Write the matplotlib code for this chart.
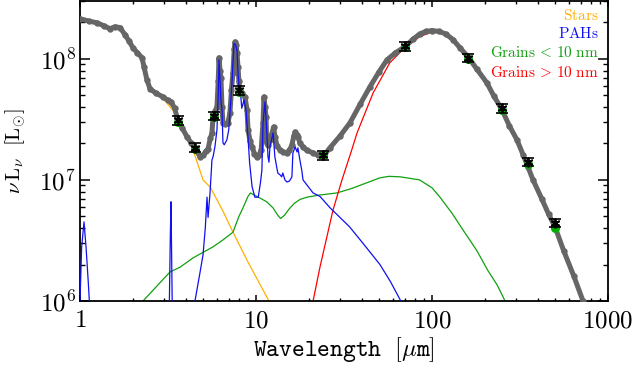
import numpy as np
import matplotlib
matplotlib.use("Agg")
import matplotlib.pyplot as plt
from matplotlib.ticker import FixedLocator, FixedFormatter, LogLocator, NullFormatter

plt.rcParams['mathtext.fontset'] = 'cm'
plt.rcParams['font.family'] = ['DejaVu Serif']

# ---------------- data ----------------
total_wl = [1.0, 1.12, 1.25, 1.37, 1.48, 1.58, 1.69, 1.8, 1.9, 2.0, 2.12, 2.25, 2.31, 2.40, 2.5,
            2.7, 2.96, 3.15, 3.3, 3.45, 3.6, 3.8, 4.05, 4.3, 4.5, 4.81, 5.0, 5.2, 5.34, 5.5,
            5.62, 5.7, 5.85, 6.0, 6.1, 6.16, 6.25, 6.32, 6.41, 6.49, 6.7, 6.93, 7.11, 7.25,
            7.40, 7.52, 7.60, 7.70, 7.80, 7.9, 8.0, 8.1, 8.3, 8.66, 8.89, 9.01, 9.25, 9.49,
            9.8, 10.1, 10.4, 10.7, 10.96, 11.1, 11.25, 11.4, 11.5, 11.7, 12.0, 12.3, 12.6,
            12.8, 13.2, 13.7, 14.3, 15.0, 15.5, 16.0, 16.4, 16.7, 17.0, 17.3, 17.8, 18.5,
            19.5, 21.1, 22.5, 24.0, 26.3, 30.0, 34.2, 39.0, 44.4, 50.0, 55.5, 62.0, 70.2,
            78.0, 85.0, 92.0, 100.0, 110.0, 120.0, 131.6, 145.0, 160.0, 180.0, 205.0, 225.0,
            250.0, 275.0, 304.0, 330.0, 351.0, 375.0, 420.0, 460.0, 500.0, 560.0, 640.0,
            721.0, 800.0]
total_L = [2.14e8, 2.05e8, 1.98e8, 1.87e8, 1.77e8, 1.84e8, 1.81e8, 1.58e8, 1.40e8, 1.23e8,
           1.12e8, 1.02e8, 8.6e7, 6.7e7, 5.65e7, 5.2e7, 4.85e7, 4.55e7, 4.4e7, 3.9e7, 3.1e7,
           2.7e7, 2.27e7, 2.0e7, 1.84e7, 1.55e7, 1.6e7, 1.72e7, 1.8e7, 2.2e7, 2.44e7, 3.3e7,
           3.7e7, 4.0e7, 6.5e7, 1.02e8, 8.0e7, 6.97e7, 4.0e7, 2.96e7, 2.9e7, 2.96e7, 3.58e7,
           5.5e7, 7.66e7, 1.2e8, 1.38e8, 1.3e8, 1.12e8, 8.5e7, 6.5e7, 5.4e7, 5.2e7, 4.85e7,
           3.79e7, 2.59e7, 2.1e7, 1.87e7, 1.65e7, 1.55e7, 1.6e7, 1.77e7, 2.96e7, 4.85e7,
           4.0e7, 3.32e7, 2.02e7, 1.95e7, 2.14e7, 2.4e7, 2.74e7, 2.27e7, 1.9e7, 1.77e7,
           1.7e7, 1.67e7, 1.75e7, 1.95e7, 2.3e7, 2.49e7, 2.35e7, 2.27e7, 2.0e7, 1.87e7,
           1.75e7, 1.67e7, 1.6e7, 1.55e7, 1.84e7, 2.3e7, 2.96e7, 4.2e7, 5.87e7, 7.8e7, 9.8e7,
           1.12e8, 1.26e8, 1.45e8, 1.6e8, 1.68e8, 1.71e8, 1.68e8, 1.6e8, 1.44e8, 1.22e8,
           1.04e8, 8.2e7, 6.33e7, 4.9e7, 3.79e7, 2.8e7, 2.14e7, 1.6e7, 1.28e7, 1.0e7, 7.0e6,
           5.2e6, 4.09e6, 2.6e6, 1.6e6, 1.0e6, 6.5e5]

stars_wl = [1.0, 1.25, 1.48, 1.58, 1.69, 1.8, 2.0, 2.25, 2.5, 3.0, 3.4, 3.7, 4.1, 4.4, 5.0,
            5.5, 6.5, 7.4, 9.0, 11.85, 13.0]
stars_L = [2.1e8, 1.95e8, 1.75e8, 1.82e8, 1.78e8, 1.55e8, 1.2e8, 1.0e8, 5.6e7, 4.6e7, 3.7e7,
           2.95e7, 2.2e7, 1.75e7, 1.0e7, 8.7e6, 5.5e6, 3.7e6, 2.1e6, 1.0e6, 7.5e5]

pah_wl = [0.97, 1.0, 1.022, 1.054, 1.082, 1.115, 1.14, 1.16, 3.18, 3.22, 3.26, 3.29, 3.31,
          3.34, 3.38, 4.4, 4.45, 4.5, 4.8, 5.0, 5.15, 5.27, 5.34, 5.48, 5.62, 5.7, 5.85, 6.0,
          6.1, 6.16, 6.25, 6.32, 6.41, 6.49, 6.6, 6.83, 7.0, 7.15, 7.3, 7.5, 7.65, 7.8, 7.9,
          8.05, 8.2, 8.3, 8.55, 8.77, 9.0, 9.2, 9.5, 9.85, 10.3, 10.6, 10.8, 10.96, 11.25,
          11.5, 11.7, 11.85, 12.0, 12.5, 12.8, 13.3, 13.7, 14.0, 14.2, 14.6, 15.0, 15.5, 16.0,
          16.2, 16.7, 17.1, 17.3, 17.7, 18.2, 18.5, 21.1, 23.1, 26.3, 34.0, 40.5, 50.6, 58.0,
          66.5, 72.0]
pah_L = [1e4, 1.0e6, 2.8e6, 4.5e6, 2.8e6, 1.41e6, 8e5, 1e4, 1e4, 1.0e6, 3.5e6, 6.6e6, 3.0e6,
         1.0e6, 1e4, 1e4, 5e5, 1.0e6, 1.7e6, 2.4e6, 4.0e6, 7.2e6, 4.9e6, 7.8e6, 1.46e7, 1.55e7,
         1.9e7, 2.59e7, 5.0e7, 9.8e7, 6.5e7, 4.5e7, 3.79e7, 2.02e7, 1.95e7, 2.14e7, 2.59e7,
         4.0e7, 6.3e7, 1.34e8, 1.3e8, 1.18e8, 7.66e7, 5.5e7, 4.85e7, 3.9e7, 4.58e7, 3.79e7,
         2.27e7, 1.38e7, 8.8e6, 7.2e6, 7.2e6, 9.5e6, 1.2e7, 2.96e7, 4.4e7, 2.59e7, 1.55e7,
         1.4e7, 1.87e7, 2.44e7, 1.55e7, 1.14e7, 1.1e7, 1.06e7, 1.14e7, 1.0e7, 9.6e6, 9.8e6,
         1.06e7, 1.67e7, 1.87e7, 1.7e7, 1.84e7, 1.5e7, 1.2e7, 1.0e7, 7.8e6, 7.3e6, 5.9e6,
         4.1e6, 3.0e6, 2.0e6, 1.45e6, 1.0e6, 7.5e5]

vsg_wl = [2.2, 2.28, 3.25, 3.7, 4.39, 5.7, 6.5, 7.4, 8.0, 8.45, 9.0, 9.3, 9.6, 10.5, 11.5,
          12.5, 13.3, 13.8, 14.5, 15.5, 16.5, 17.8, 19.5, 23.0, 28.8, 35.0, 42.5, 50.6, 57.0,
          66.0, 85.0, 100.0, 111.0, 130.0, 150.0, 180.0, 207.0, 235.0, 260.0, 280.0]
vsg_L = [8e5, 1.0e6, 1.74e6, 1.9e6, 2.27e6, 2.8e6, 3.2e6, 3.7e6, 5.0e6, 5.9e6, 7.3e6, 7.8e6,
         7.6e6, 7.1e6, 6.6e6, 5.87e6, 5.1e6, 4.8e6, 5.1e6, 5.8e6, 6.4e6, 6.9e6, 7.2e6, 7.5e6,
         7.8e6, 8.5e6, 9.45e6, 1.04e7, 1.07e7, 1.06e7, 1.0e7, 8.6e6, 7.2e6, 5.3e6, 3.86e6,
         2.6e6, 1.8e6, 1.35e6, 1.0e6, 8e5]

bg_wl = [20.5, 21.1, 23.1, 27.4, 30.8, 35.0, 37.5, 46.3, 57.6, 68.3, 85.0, 100.0, 115.0,
         131.6, 160.0, 205.0, 250.0, 304.0, 375.0, 500.0, 721.0, 800.0]
bg_L = [7e5, 1.0e6, 1.91e6, 5.65e6, 1.0e7, 1.77e7, 2.44e7, 5.23e7, 9.27e7, 1.19e8, 1.52e8,
        1.67e8, 1.62e8, 1.4e8, 1.01e8, 6.2e7, 3.72e7, 2.1e7, 9.8e6, 4.0e6, 9.8e5, 6.4e5]

obs_wl = [3.6, 4.5, 5.8, 8.0, 24.0, 70.0, 160.0, 250.0, 350.0, 500.0]
obs_L = [3.1e7, 1.85e7, 3.4e7, 5.5e7, 1.6e7, 1.27e8, 1.02e8, 3.9e7, 1.4e7, 4.4e6]
obs_err = [2.5e6, 1.5e6, 2.7e6, 4.4e6, 1.3e6, 1.0e7, 8.0e6, 3.1e6, 1.1e6, 3.5e5]
band_L = [3.0e7, 1.8e7, 3.3e7, 5.3e7, 1.6e7, 1.24e8, 1.0e8, 3.8e7, 1.35e7, 4.0e6]

legend_labels = [r'$\mathrm{Stars}$', r'$\mathrm{PAHs}$',
                 r'$\mathrm{Grains}\,<\,10\ \mathrm{nm}$',
                 r'$\mathrm{Grains}\,>\,10\ \mathrm{nm}$']
xtick_vals = [1, 10, 100, 1000]
xtick_labels = ['1', '10', '100', '1000']
ytick_vals = [1e6, 1e7, 1e8]
ytick_labels = [r'$10^{6}$', r'$10^{7}$', r'$10^{8}$']

# ---------------- style ----------------
c_stars = '#FFB000'
c_pah = '#1010F0'
c_vsg = '#10A010'
c_bg = '#FF0000'
c_tot = '#666666'

fig = plt.figure(figsize=(6.33, 3.66), dpi=100)
ax = fig.add_axes([80/633, 65/366, 528/633, 300/366])
ax.set_xscale('log')
ax.set_yscale('log')
ax.set_xlim(1, 1000)
ax.set_ylim(1e6, 3.0e8)

ax.plot(stars_wl, stars_L, color=c_stars, lw=0.9, zorder=2)
ax.plot(vsg_wl, vsg_L, color=c_vsg, lw=0.9, zorder=2)
ax.plot(bg_wl, bg_L, color=c_bg, lw=0.9, zorder=2)
ax.plot(total_wl, total_L, color=c_tot, lw=3.6, marker='o', ms=4.6, mew=0, zorder=3,
        solid_capstyle='round', solid_joinstyle='round')
ax.plot(pah_wl, pah_L, color=c_pah, lw=0.9, zorder=4)

ax.plot(obs_wl, band_L, 'o', color='#00B000', ms=6.5, mew=0, zorder=5)
ax.errorbar(obs_wl, obs_L, yerr=obs_err, fmt='none', ecolor='black', elinewidth=1.2,
            capsize=4, capthick=1.2, zorder=6)
ax.plot(obs_wl, obs_L, linestyle='none', marker=(6, 2, 0), color='black', ms=7, mew=1.3,
        zorder=7)

legend_colors = [c_stars, c_pah, c_vsg, c_bg]
legend_y = [0.95, 0.89, 0.827, 0.763]
for lab, col, yy in zip(legend_labels, legend_colors, legend_y):
    ax.text(0.983, yy, lab, transform=ax.transAxes, ha='right', va='center', color=col,
            fontsize=11)

ax.xaxis.set_major_locator(FixedLocator(xtick_vals))
ax.xaxis.set_major_formatter(FixedFormatter([r'$\mathrm{%s}$' % t for t in xtick_labels]))
ax.xaxis.set_minor_locator(LogLocator(base=10, subs=np.arange(2, 10)))
ax.xaxis.set_minor_formatter(NullFormatter())
ax.yaxis.set_major_locator(FixedLocator(ytick_vals))
ax.yaxis.set_major_formatter(FixedFormatter(ytick_labels))
ax.yaxis.set_minor_locator(LogLocator(base=10, subs=np.arange(2, 10)))
ax.yaxis.set_minor_formatter(NullFormatter())

ax.tick_params(axis='x', which='major', direction='in', length=4.2, width=1.1, top=True,
               labelsize=18, pad=6)
ax.tick_params(axis='x', which='minor', direction='in', length=2.2, width=1.0, top=True)
ax.tick_params(axis='y', which='major', direction='in', length=7.2, width=1.1, right=True,
               labelsize=18, pad=3)
ax.tick_params(axis='y', which='minor', direction='in', length=3.8, width=1.0, right=True)
for s in ax.spines.values():
    s.set_linewidth(1.3)

ax.set_xlabel(r'$\mathtt{Wavelength}\ \ [\mu\mathtt{m}]$', fontsize=17.5)
ax.xaxis.set_label_coords(0.5, -0.115)
ax.set_ylabel(r'$\nu\,\mathrm{L}_{\nu}\ \ [\mathrm{L}_{\odot}]$', fontsize=15)
ax.yaxis.set_label_coords(-0.098, 0.5)

fig.savefig('out.png', dpi=100)
